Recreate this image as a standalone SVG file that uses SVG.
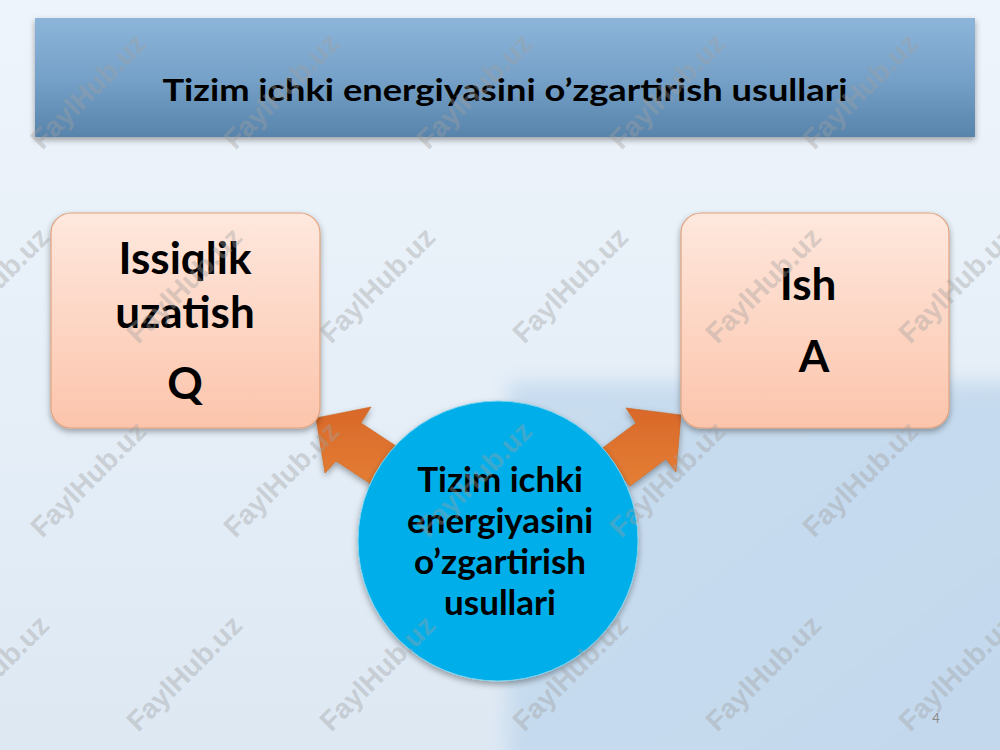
<svg xmlns="http://www.w3.org/2000/svg" width="1000" height="750" viewBox="0 0 1000 750">
  <defs>
    <linearGradient id="bg" x1="0" y1="0" x2="0" y2="1">
      <stop offset="0" stop-color="#eef4fb"/>
      <stop offset="0.5" stop-color="#e6eff8"/>
      <stop offset="1" stop-color="#dde8f3"/>
    </linearGradient>
    <linearGradient id="panel" x1="0" y1="0" x2="1" y2="1">
      <stop offset="0" stop-color="#c8dcef"/>
      <stop offset="1" stop-color="#c3d8ec"/>
    </linearGradient>
    <linearGradient id="titleFill" x1="0" y1="0" x2="0" y2="1">
      <stop offset="0" stop-color="#8db5da"/>
      <stop offset="0.5" stop-color="#76a1c8"/>
      <stop offset="1" stop-color="#5884ab"/>
    </linearGradient>
    <linearGradient id="boxFill" x1="0" y1="0" x2="0" y2="1">
      <stop offset="0" stop-color="#fee8de"/>
      <stop offset="1" stop-color="#fcc4ab"/>
    </linearGradient>
    <linearGradient id="arrowFill" x1="0" y1="0" x2="0" y2="1">
      <stop offset="0" stop-color="#d8682a"/>
      <stop offset="1" stop-color="#e57f33"/>
    </linearGradient>
    <filter id="blur" x="-20%" y="-20%" width="140%" height="140%">
      <feGaussianBlur stdDeviation="10"/>
    </filter>
    <filter id="shadow" x="-10%" y="-10%" width="120%" height="130%">
      <feDropShadow dx="0" dy="3" stdDeviation="3" flood-color="#000" flood-opacity="0.35"/>
    </filter>
    <style>
      .t { font-family: Lato, "Open Sans", "Liberation Sans", sans-serif; font-weight: 700; fill: #000; text-anchor: middle; }
      .wm { font-family: "Liberation Sans", Arial, sans-serif; font-weight: 700; font-size: 28px; fill: #a0a0a0; fill-opacity: 0.4; text-anchor: middle; }
      .box { fill: url(#boxFill); stroke: #e0a27e; stroke-width: 1.2; filter: url(#shadow); }
      .arrow { fill: url(#arrowFill); stroke: #c9651f; stroke-width: 0.6; filter: url(#shadow); }
    </style>
  </defs>

  <!-- background -->
  <rect x="0" y="0" width="1000" height="750" fill="url(#bg)"/>
  <rect x="508" y="382" width="520" height="400" fill="url(#panel)" filter="url(#blur)"/>

  <!-- title bar -->
  <g id="title">
    <rect x="35" y="18" width="940" height="119" fill="url(#titleFill)" filter="url(#shadow)"/>
    <text class="t" x="505" y="101" font-size="31" textLength="685" lengthAdjust="spacingAndGlyphs">Tizim ichki energiyasini o’zgartirish usullari</text>
  </g>

  <!-- connectors -->
  <g id="connectors">
    <polygon class="arrow" points="316,418 371,407 361,423 405,452 380,490 336,461 325,473"/>
    <polygon class="arrow" points="681,415 626,408 636,423 600,450 630,486 666,459 676,472"/>
  </g>

  <!-- left node -->
  <g id="node-heat">
    <rect class="box" x="51" y="213" width="269" height="215" rx="20" ry="20"/>
    <text class="t" x="185" y="274" font-size="44">Issiqlik</text>
    <text class="t" x="185" y="328" font-size="44">uzatish</text>
    <text class="t" x="185" y="399" font-size="44">Q</text>
  </g>

  <!-- right node -->
  <g id="node-work">
    <rect class="box" x="681" y="213" width="268" height="215" rx="20" ry="20"/>
    <text class="t" x="808" y="300" font-size="44">Ish</text>
    <text class="t" x="814" y="372" font-size="44">A</text>
  </g>

  <!-- center node -->
  <g id="node-center">
    <circle cx="498" cy="541" r="140" fill="#00aeea" stroke="#7fd3ef" stroke-width="1" filter="url(#shadow)"/>
    <text class="t" x="500" y="492" font-size="35">Tizim ichki</text>
    <text class="t" x="500" y="533" font-size="35">energiyasini</text>
    <text class="t" x="500" y="574" font-size="35">o’zgartirish</text>
    <text class="t" x="500" y="615" font-size="35">usullari</text>
  </g>

  <!-- page number -->
  <text x="936" y="723" font-family="Lato, 'Liberation Sans', sans-serif" font-size="13" fill="#8a8a8a" text-anchor="middle">4</text>

  <!-- watermarks -->
  <g id="watermarks">
    <text class="wm" transform="translate(95,98) rotate(-45)">FaylHub.uz</text>
    <text class="wm" transform="translate(288,98) rotate(-45)">FaylHub.uz</text>
    <text class="wm" transform="translate(481,98) rotate(-45)">FaylHub.uz</text>
    <text class="wm" transform="translate(674,98) rotate(-45)">FaylHub.uz</text>
    <text class="wm" transform="translate(867,98) rotate(-45)">FaylHub.uz</text>
    <text class="wm" transform="translate(-2,292) rotate(-45)">FaylHub.uz</text>
    <text class="wm" transform="translate(191,292) rotate(-45)">FaylHub.uz</text>
    <text class="wm" transform="translate(384,292) rotate(-45)">FaylHub.uz</text>
    <text class="wm" transform="translate(577,292) rotate(-45)">FaylHub.uz</text>
    <text class="wm" transform="translate(770,292) rotate(-45)">FaylHub.uz</text>
    <text class="wm" transform="translate(963,292) rotate(-45)">FaylHub.uz</text>
    <text class="wm" transform="translate(95,486) rotate(-45)">FaylHub.uz</text>
    <text class="wm" transform="translate(288,486) rotate(-45)">FaylHub.uz</text>
    <text class="wm" transform="translate(481,486) rotate(-45)">FaylHub.uz</text>
    <text class="wm" transform="translate(674,486) rotate(-45)">FaylHub.uz</text>
    <text class="wm" transform="translate(867,486) rotate(-45)">FaylHub.uz</text>
    <text class="wm" transform="translate(-2,680) rotate(-45)">FaylHub.uz</text>
    <text class="wm" transform="translate(191,680) rotate(-45)">FaylHub.uz</text>
    <text class="wm" transform="translate(384,680) rotate(-45)">FaylHub.uz</text>
    <text class="wm" transform="translate(577,680) rotate(-45)">FaylHub.uz</text>
    <text class="wm" transform="translate(770,680) rotate(-45)">FaylHub.uz</text>
    <text class="wm" transform="translate(963,680) rotate(-45)">FaylHub.uz</text>
  </g>
</svg>
